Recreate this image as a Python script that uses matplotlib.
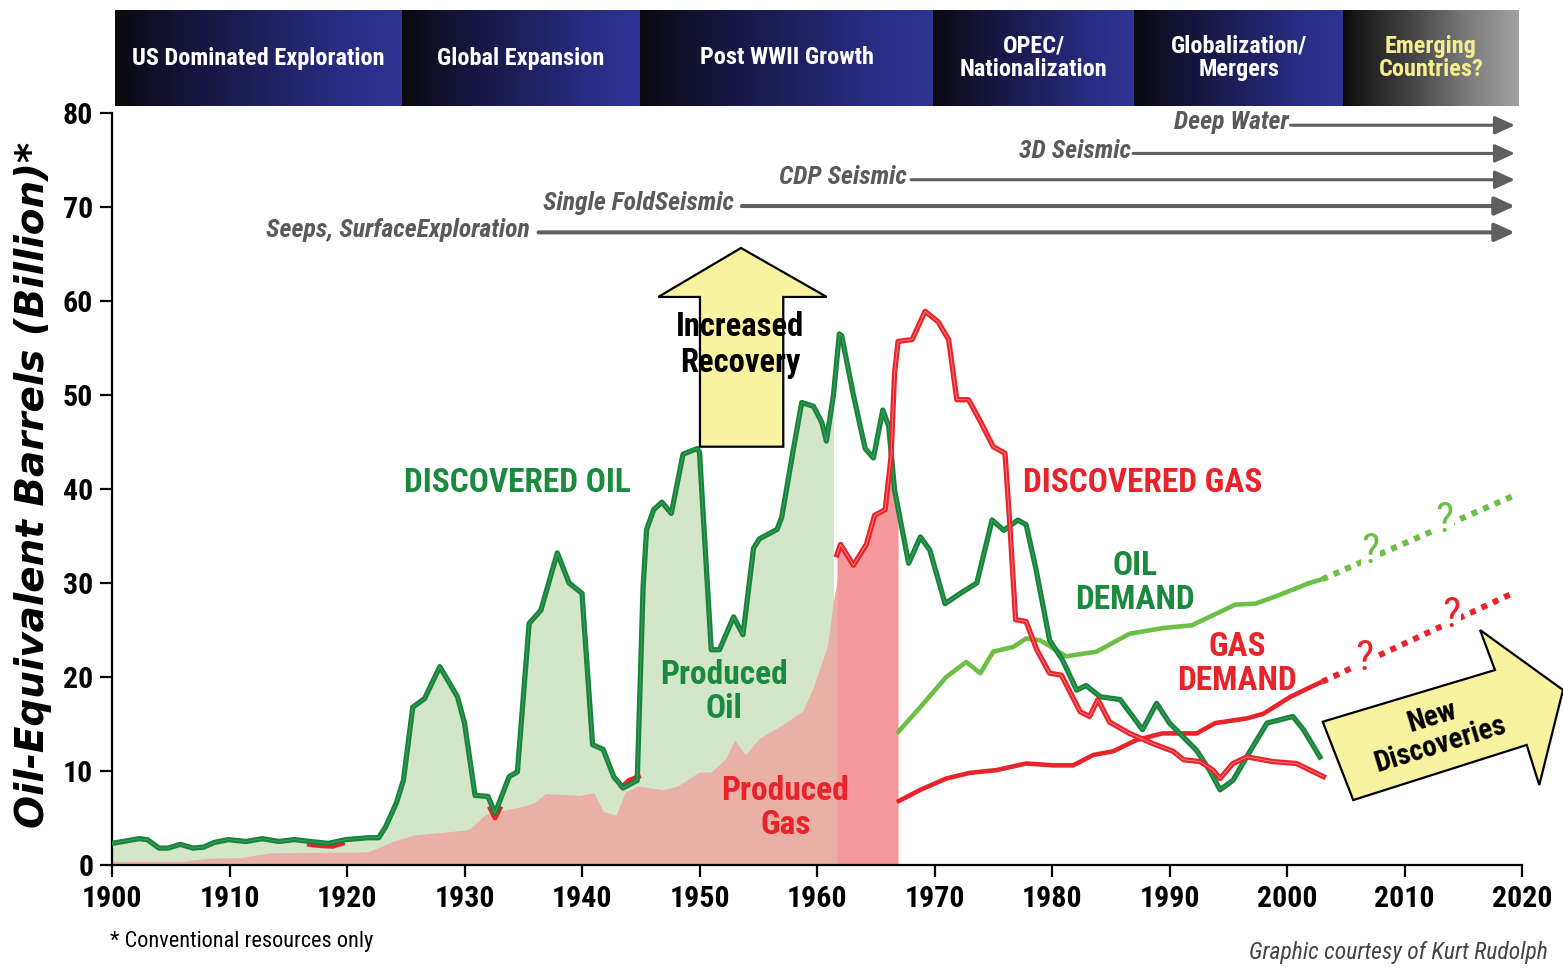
import numpy as np
import matplotlib
matplotlib.use("Agg")
import matplotlib.pyplot as plt
from matplotlib import font_manager
from matplotlib.colors import LinearSegmentedColormap
from matplotlib.patches import Polygon

# ---------------- data ----------------
era_names = ["US Dominated Exploration", "Global Expansion", "Post WWII Growth",
             "OPEC/\nNationalization", "Globalization/\nMergers", "Emerging\nCountries?"]
era_bounds = [1900.25, 1924.7, 1944.9, 1969.9, 1987.0, 2004.8, 2019.7]

tech_labels = ["Deep Water", "3D Seismic", "CDP Seismic", "Single FoldSeismic",
               "Seeps, SurfaceExploration"]
tech_start = [2000.3, 1986.9, 1968.0, 1953.6, 1936.3]
tech_level = [78.7, 75.7, 72.9, 70.1, 67.3]
tech_end = 2019.4

oil_disc_years = [1900, 1902.3, 1903.0, 1904.0, 1904.8, 1905.8, 1906.9, 1907.8, 1908.7, 1909.9,
                  1911.4, 1912.8, 1914.2, 1915.5, 1916.9, 1918.4, 1919.9, 1921.8, 1922.7, 1923.3,
                  1924.2, 1924.8, 1925.6, 1926.6, 1927.9, 1929.4, 1930.0, 1930.9, 1932.0, 1932.6,
                  1933.8, 1934.5, 1935.5, 1936.5, 1937.9, 1938.9, 1940.0, 1940.9, 1941.8, 1942.7,
                  1943.5, 1944.7, 1945.2, 1945.5, 1946.1, 1946.8, 1947.6, 1948.6, 1949.8, 1950.0,
                  1951.0, 1951.7, 1952.9, 1953.7, 1954.6, 1955.1, 1956.6, 1957.0, 1958.0, 1958.7,
                  1959.7, 1960.4, 1960.8, 1961.4, 1961.9, 1962.1, 1963.1, 1964.1, 1964.8, 1965.6,
                  1966.1, 1966.6, 1967.8, 1968.8, 1969.6, 1970.9, 1972.2, 1973.6, 1974.9, 1975.9,
                  1977.1, 1977.8, 1978.6, 1979.8, 1980.9, 1982.1, 1982.9, 1984.1, 1985.8, 1987.7,
                  1988.9, 1990.0, 1992.3, 1993.4, 1994.3, 1995.4, 1996.9, 1998.3, 2000.5, 2001.4,
                  2002.8]
oil_disc_vals = [2.3, 2.8, 2.7, 1.8, 1.8, 2.2, 1.8, 1.9, 2.4, 2.7,
                 2.5, 2.8, 2.5, 2.7, 2.5, 2.3, 2.7, 2.9, 2.9, 4.1,
                 6.6, 9.0, 16.8, 17.7, 21.1, 17.9, 15.1, 7.4, 7.3, 5.5,
                 9.4, 9.9, 25.7, 27.1, 33.2, 30.0, 28.9, 12.8, 12.3, 9.4,
                 8.2, 9.0, 29.6, 35.7, 37.8, 38.6, 37.4, 43.7, 44.3, 43.9,
                 22.9, 22.9, 26.4, 24.5, 33.7, 34.7, 35.7, 37.0, 44.3, 49.2,
                 48.8, 47.1, 45.1, 50.0, 56.5, 56.3, 50.0, 44.3, 43.3, 48.4,
                 46.7, 39.9, 32.1, 34.9, 33.5, 27.8, 28.9, 30.0, 36.7, 35.6,
                 36.7, 36.2, 31.7, 23.9, 21.8, 18.6, 19.1, 17.9, 17.6, 14.4,
                 17.2, 15.1, 12.2, 10.1, 8.0, 9.0, 12.2, 15.1, 15.8, 14.4,
                 11.5]
oil_fill_end = 1961.4

gas_early_years = [1916.8, 1917.8, 1918.8, 1919.6, np.nan, 1932.2, 1932.6, 1933.0, np.nan,
                   1943.4, 1944.0, 1944.8]
gas_early_vals = [2.2, 2.05, 2.0, 2.3, np.nan, 6.0, 5.0, 6.0, np.nan, 8.3, 9.0, 9.4]

prod_gas_years = [1900, 1906, 1908, 1911, 1913.5, 1921.8, 1923.9, 1925.7, 1930.0, 1930.5,
                  1931.8, 1934.8, 1935.9, 1936.9, 1939.8, 1941.0, 1941.8, 1942.9, 1943.7, 1944.8,
                  1946.9, 1948.1, 1950.0, 1951.0, 1952.2, 1953.0, 1953.9, 1955.1, 1956.9, 1958.8,
                  1959.7, 1960.9, 1961.4, 1961.75]
prod_gas_vals = [0.4, 0.4, 0.7, 0.8, 1.3, 1.4, 2.5, 3.2, 3.7, 3.9,
                 5.4, 6.2, 6.6, 7.6, 7.4, 7.7, 5.7, 5.3, 7.8, 8.4,
                 8.0, 8.4, 9.9, 9.9, 11.3, 13.3, 11.7, 13.5, 14.8, 16.4,
                 19.0, 23.4, 28.2, 30.5]

gas_disc_years = [1961.7, 1962.0, 1963.1, 1964.2, 1964.9, 1965.8, 1966.3, 1966.6, 1966.9, 1968.1,
                  1969.2, 1970.3, 1971.2, 1971.9, 1972.9, 1973.9, 1975.0, 1976.0, 1976.4, 1976.9,
                  1977.8, 1978.7, 1979.8, 1980.8, 1982.4, 1983.2, 1983.9, 1984.9, 1986.6, 1988.6,
                  1990.3, 1991.2, 1992.6, 1993.7, 1994.3, 1995.4, 1996.6, 1998.8, 2000.8, 2003.1]
gas_disc_vals = [33.0, 34.1, 31.9, 34.1, 37.2, 37.8, 43.4, 52.3, 55.7, 55.9,
                 58.9, 57.8, 55.9, 49.5, 49.5, 47.2, 44.5, 43.8, 36.4, 26.1,
                 25.9, 22.9, 20.4, 20.2, 16.3, 15.8, 17.6, 15.2, 14.0, 12.9,
                 12.1, 11.2, 11.0, 10.1, 9.2, 10.8, 11.5, 11.0, 10.8, 9.4]
gas_fill_end = 1966.9

oil_dem_years = [1966.8, 1968.8, 1971.0, 1972.7, 1973.9, 1975.0, 1976.7, 1977.8, 1979.0, 1981.2,
                 1983.8, 1986.6, 1989.4, 1991.9, 1995.6, 1997.3, 1999.3, 2001.9, 2003.0]
oil_dem_vals = [14.0, 16.8, 20.0, 21.6, 20.4, 22.7, 23.2, 24.1, 23.9, 22.2,
                22.7, 24.6, 25.2, 25.5, 27.7, 27.8, 28.7, 30.0, 30.4]

gas_dem_years = [1966.8, 1968.8, 1971.0, 1973.0, 1975.3, 1977.8, 1980.1, 1981.8, 1983.5, 1985.2,
                 1987.2, 1989.4, 1992.3, 1993.9, 1996.6, 1998.0, 2000.3, 2002.3, 2003.0]
gas_dem_vals = [6.7, 8.0, 9.2, 9.8, 10.1, 10.8, 10.6, 10.6, 11.7, 12.1,
                13.3, 14.0, 14.0, 15.1, 15.6, 16.1, 17.9, 19.1, 19.5]

oil_fc_years = [2003.0, 2019.5]
oil_fc_vals = [30.4, 39.4]
gas_fc_years = [2003.0, 2019.2]
gas_fc_vals = [19.5, 28.9]

x_ticks = list(range(1900, 2021, 10))
y_ticks = list(range(0, 81, 10))

# ---------------- fonts ----------------
names = {f.name for f in font_manager.fontManager.ttflist}
NARROW = next((n for n in ["Liberation Sans Narrow", "DejaVu Sans Condensed", "Roboto Condensed"]
               if n in names), "DejaVu Sans")

# ---------------- colours ----------------
C_DGREEN = "#17843c"
C_DGREEN_T = "#1a8a3e"
C_RED = "#e8232a"
C_LGREEN = "#6dbe45"
C_GFILL = "#d3e7c8"
C_SALMON = "#e9b1a6"
C_PINK = "#f4999b"
C_GRAY = "#5f5f5f"
C_YEL = "#f8f3a0"

W, H = 1563, 969
fig = plt.figure(figsize=(W / 100, H / 100), dpi=100)
fig.patch.set_facecolor("white")

ax = fig.add_axes([112 / W, 1 - 865 / H, 1410 / W, 752 / H])
ax.set_xlim(1900, 2020)
ax.set_ylim(0, 80)
for s in ["top", "right"]:
    ax.spines[s].set_visible(False)
for s in ["left", "bottom"]:
    ax.spines[s].set_linewidth(1.6)
ax.set_xticks(x_ticks)
ax.set_yticks(y_ticks)
ax.tick_params(direction="out", length=8.5, width=1.6, pad=5)
ax.tick_params(axis="x", pad=6)
for lab in ax.get_xticklabels() + ax.get_yticklabels():
    lab.set_fontfamily(NARROW)
    lab.set_fontweight("bold")
    lab.set_fontsize(21.5)

# fills
oy = np.array(oil_disc_years)
ov = np.array(oil_disc_vals)
m = oy < oil_fill_end
fx = np.append(oy[m], oil_fill_end)
fy = np.append(ov[m], np.interp(oil_fill_end, oy, ov))
ax.fill_between(fx, 0, fy, color=C_GFILL, lw=0, zorder=2)
ax.fill_between(prod_gas_years, 0, prod_gas_vals, color=C_SALMON, lw=0, zorder=2.1)
px = np.linspace(gas_disc_years[0], gas_fill_end, 300)
ptop = np.minimum(np.interp(px, gas_disc_years, gas_disc_vals), np.interp(px, oy, ov))
ax.fill_between(px, 0, ptop, color=C_PINK, lw=0, zorder=2.2)

# demand lines
ax.plot(oil_dem_years, oil_dem_vals, color=C_LGREEN, lw=3.3, zorder=3, solid_capstyle="butt")
ax.plot(gas_dem_years, gas_dem_vals, color=C_RED, lw=3.3, zorder=3, solid_capstyle="butt")
ax.plot(oil_fc_years, oil_fc_vals, color=C_LGREEN, lw=4.3, linestyle=(0, (1, 1.1)), zorder=3,
        dash_capstyle="butt")
ax.plot(gas_fc_years, gas_fc_vals, color=C_RED, lw=4.3, linestyle=(0, (1, 1.1)), zorder=3,
        dash_capstyle="butt")

# early discovered gas bits
ax.plot(gas_early_years, gas_early_vals, color=C_RED, lw=3.6, zorder=3.9)

# discovered oil and gas (double line look)
ax.plot(oy, ov, color=C_DGREEN, lw=3.8, zorder=4, solid_joinstyle="round")
ax.plot(oy, ov, color="#5aa86c", lw=0.6, zorder=4.01, alpha=0.8)
ax.plot(gas_disc_years, gas_disc_vals, color=C_RED, lw=3.8, zorder=4.5, solid_joinstyle="round")
ax.plot(gas_disc_years, gas_disc_vals, color="#f59a9c", lw=0.6, zorder=4.51, alpha=0.9)

# question marks
for (qx, qy, qc) in [(2007.1, 33.4, C_LGREEN), (2013.4, 36.6, C_LGREEN),
                     (2006.6, 22.0, C_RED), (2014.0, 26.5, C_RED)]:
    ax.text(qx, qy, "?", color=qc, fontsize=31, family=NARROW, ha="center", va="center",
            zorder=5, bbox=dict(facecolor="white", edgecolor="none", pad=0.2))

# technology arrows
tech_gap = [0.15, 0.15, 0.35, 0.7, 0.75]
for lab, st, lv, gp in zip(tech_labels, tech_start, tech_level, tech_gap):
    lw = 2.9 if lv < 71 else 2.2
    ax.annotate("", xy=(tech_end, lv), xytext=(st, lv),
                arrowprops=dict(arrowstyle="-|>,head_length=0.55,head_width=0.25",
                                color=C_GRAY, lw=lw, mutation_scale=22,
                                shrinkA=0, shrinkB=0), zorder=5)
    ax.text(st - gp, lv + 0.3, lab, ha="right", va="center", color="#5a5a5a",
            fontsize=18.5, family=NARROW, weight="bold", style="italic", zorder=5)

# Increased recovery arrow
up = [(1946.49, 60.43), (1950.04, 60.43), (1950.04, 44.5), (1957.13, 44.5),
      (1957.13, 60.43), (1960.83, 60.43), (1953.53, 65.64)]
ax.add_patch(Polygon(up, closed=True, facecolor=C_YEL, edgecolor="black", lw=1.6, zorder=6))
ax.text(1953.45, 55.3, "Increased\nRecovery", ha="center", va="center", fontsize=23.5,
        family=NARROW, weight="bold", color="black", linespacing=1.15, zorder=7)

# New discoveries arrow
nd = [(2003.04, 15.24), (2005.64, 6.91), (2020.4, 12.77), (2021.47, 8.51),
      (2023.49, 18.62), (2016.43, 25.0), (2017.7, 20.74)]
ax.add_patch(Polygon(nd, closed=True, facecolor=C_YEL, edgecolor="black", lw=1.6,
                     zorder=6, clip_on=False))
ax.text(2012.7, 14.3, "New\nDiscoveries", ha="center", va="center", fontsize=21,
        family=NARROW, weight="bold", color="black", rotation=17, linespacing=1.0,
        zorder=7, rotation_mode="anchor")

# labels
ax.text(1934.47, 40.64, "DISCOVERED OIL", ha="center", va="center", fontsize=24,
        family=NARROW, weight="bold", color=C_DGREEN_T, zorder=7)
ax.text(1987.74, 40.64, "DISCOVERED GAS", ha="center", va="center", fontsize=24,
        family=NARROW, weight="bold", color=C_RED, zorder=7)
ax.text(1987.06, 30.0, "OIL\nDEMAND", ha="center", va="center", fontsize=24,
        family=NARROW, weight="bold", color=C_DGREEN_T, linespacing=1.1, zorder=7)
ax.text(1995.74, 21.4, "GAS\nDEMAND", ha="center", va="center", fontsize=24,
        family=NARROW, weight="bold", color=C_RED, linespacing=1.1, zorder=7)
ax.text(1952.1, 18.4, "Produced\nOil", ha="center", va="center", fontsize=24,
        family=NARROW, weight="bold", color=C_DGREEN_T, linespacing=1.05, zorder=7)
ax.text(1957.3, 6.06, "Produced\nGas", ha="center", va="center", fontsize=24,
        family=NARROW, weight="bold", color=C_RED, linespacing=1.05, zorder=7)

# header band
hax = fig.add_axes([112 / W, 1 - 106 / H, 1410 / W, 96 / H])
hax.set_xlim(1900, 2020)
hax.set_ylim(0, 1)
hax.axis("off")
cmap_blue = LinearSegmentedColormap.from_list(
    "hb", [(0, "#0a0a0e"), (0.12, "#0f0f26"), (0.45, "#1c1d55"), (0.8, "#2a2d85"), (1, "#2f3393")])
cmap_gray = LinearSegmentedColormap.from_list(
    "hg", [(0, "#0c0c0c"), (0.35, "#3e3e3e"), (0.7, "#7a7a7a"), (1, "#a2a2a2")])
grad = np.linspace(0, 1, 256).reshape(1, -1)
for i, name in enumerate(era_names):
    s, e = era_bounds[i], era_bounds[i + 1]
    last = i == len(era_names) - 1
    hax.imshow(grad, cmap=cmap_gray if last else cmap_blue, extent=(s, e, 0, 1),
               aspect="auto", interpolation="bilinear")
    hax.text((s + e) / 2, 0.5, name, ha="center", va="center",
             color="#f5ee8f" if last else "white", fontsize=17.5, family=NARROW,
             weight="bold", linespacing=1.05)
hax.set_xlim(1900, 2020)
hax.set_ylim(0, 1)

# axis label and notes
fig.text(33 / W, 1 - 485 / H, "Oil-Equivalent Barrels (Billion)*", rotation=90,
         ha="center", va="center", fontsize=28, weight="bold", style="italic",
         family="DejaVu Sans", color="black")
fig.text(110 / W, 1 - 942 / H, "* Conventional resources only", ha="left", va="center",
         fontsize=16, family=NARROW, color="black")
fig.text(1548 / W, 1 - 952 / H, "Graphic courtesy of Kurt Rudolph", ha="right", va="center",
         fontsize=17, family=NARROW, style="italic", color="#444444")

fig.savefig("out.png", dpi=100, facecolor="white")
